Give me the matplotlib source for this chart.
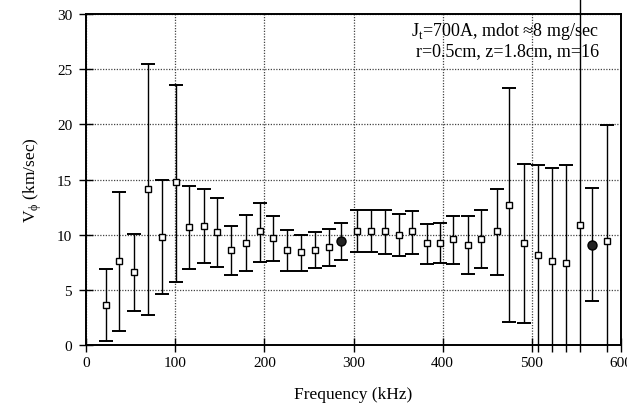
import numpy as np
import matplotlib
matplotlib.use("Agg")
import matplotlib.pyplot as plt

freq = [22.4, 37.3, 53.8, 69.2, 85.6, 100.9, 115.5, 132.3, 146.9, 162.6, 179.1, 195.1,
        210.0, 225.8, 240.8, 256.8, 272.5, 285.6, 303.6, 319.3, 335.3, 351.0, 366.0,
        382.0, 397.0, 412.0, 428.8, 443.3, 460.6, 474.8, 491.2, 507.0, 522.6, 537.9,
        554.0, 568.0, 584.0]
vphi = [3.65, 7.6, 6.6, 14.15, 9.8, 14.75, 10.65, 10.8, 10.25, 8.6, 9.25, 10.3,
        9.7, 8.6, 8.4, 8.6, 8.85, 9.4, 10.3, 10.35, 10.3, 10.0, 10.3,
        9.25, 9.25, 9.6, 9.1, 9.65, 10.3, 12.7, 9.25, 8.15, 7.6, 7.4,
        10.9, 9.1, 9.4]
upper = [6.9, 13.9, 10.1, 25.5, 14.95, 23.55, 14.4, 14.1, 13.3, 10.8, 11.75, 12.9,
         11.7, 10.4, 10.0, 10.2, 10.5, 11.05, 12.25, 12.25, 12.2, 11.9, 12.15,
         11.0, 11.05, 11.7, 11.7, 12.25, 14.1, 23.3, 16.45, 16.35, 16.0, 16.3,
         31.5, 14.2, 19.9]
lower = [0.4, 1.3, 3.1, 2.7, 4.65, 5.75, 6.9, 7.4, 7.1, 6.35, 6.75, 7.55,
         7.6, 6.7, 6.7, 6.95, 7.2, 7.7, 8.45, 8.4, 8.25, 8.05, 8.25,
         7.35, 7.45, 7.3, 6.45, 7.0, 6.35, 2.1, 2.0, -0.6, -0.6, -0.6,
         -0.6, 3.95, -0.6]
filled = [False]*17 + [True] + [False]*17 + [True] + [False]

xticks = [0, 100, 200, 300, 400, 500, 600]
yticks = [0, 5, 10, 15, 20, 25, 30]

f = np.array(freq); v = np.array(vphi); up = np.array(upper); lo = np.array(lower)
fl = np.array(filled)

serif = 'Liberation Serif'

fig = plt.figure(figsize=(6.27, 4.06), dpi=100)
ax = fig.add_axes([0.1372, 0.1478, 0.8532, 0.8152])
ax.set_xlim(0, 600)
ax.set_ylim(0, 30)

ax.vlines(f, lo, up, colors='black', linewidth=1.0, clip_on=False, zorder=3)
mu = (up <= 30)
ml = (lo >= 0)
ax.plot(f[mu], up[mu], ls='none', marker='_', ms=10, mew=1.4, color='black', zorder=3)
ax.plot(f[ml], lo[ml], ls='none', marker='_', ms=10, mew=1.4, color='black', zorder=3)
ax.plot(f[~fl], v[~fl], ls='none', marker='s', ms=4.5, mfc='white', mec='black', mew=1.0, zorder=4)
ax.plot(f[fl], v[fl], ls='none', marker='o', ms=6.5, mfc='#222222', mec='black', mew=1.0, zorder=4)

ax.set_xticks(xticks)
ax.set_yticks(yticks)
ax.grid(True, linestyle=(0, (1, 1.2)), color='#444444', linewidth=0.9)
ax.tick_params(direction='inout', length=10, width=1.0, labelsize=11, pad=3)
ax.tick_params(axis='y', pad=5)
for lab in ax.get_xticklabels() + ax.get_yticklabels():
    lab.set_family(serif)
for s in ax.spines.values():
    s.set_linewidth(1.4)

ax.text(575, 28.5, r"J$_\mathregular{t}$=700A, mdot ≈8 mg/sec", ha='right', va='center',
        fontsize=13, family=serif)
ax.text(575, 26.7, "r=0.5cm, z=1.8cm, m=16", ha='right', va='center',
        fontsize=13, family=serif)
ax.set_xlabel("Frequency (kHz)", family=serif, fontsize=12.5, labelpad=12)
ax.set_ylabel(r"V$_\mathregular{\phi}$ (km/sec)", family=serif, fontsize=12.5, labelpad=9)

fig.savefig("out.png", dpi=100)
